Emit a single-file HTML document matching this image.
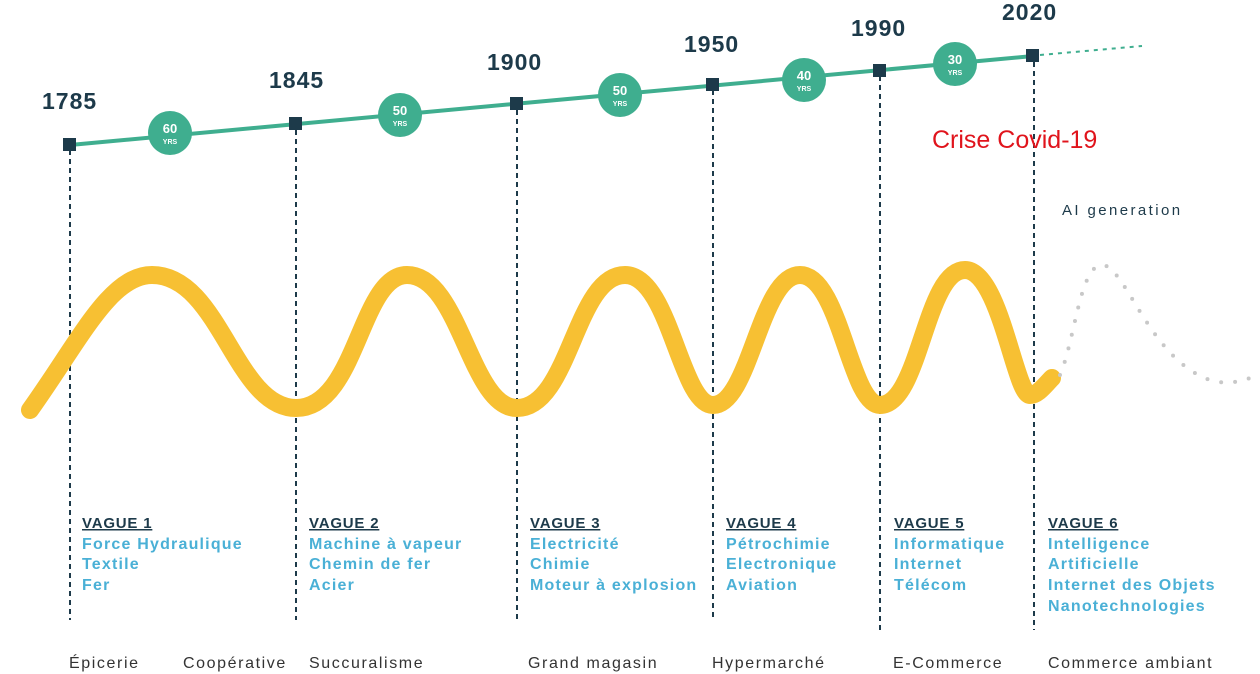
<!DOCTYPE html>
<html><head><meta charset="utf-8"><style>
body{margin:0;background:#fff;width:1260px;height:674px;overflow:hidden}
svg{display:block}
.yr{font:bold 23px "Liberation Sans",sans-serif;fill:#1d3a4a;letter-spacing:1px}
.ci{font:bold 13px "Liberation Sans",sans-serif;fill:#fff}
.cs{font:bold 7px "Liberation Sans",sans-serif;fill:#fff}
.vg{font:bold 15px "Liberation Sans",sans-serif;fill:#1d3a4a;text-decoration:underline;letter-spacing:0.8px}
.it{font:bold 16px "Liberation Sans",sans-serif;fill:#4ab0d6;letter-spacing:1.2px}
.bt{font:16px "Liberation Sans",sans-serif;fill:#333;letter-spacing:1.6px}
</style></head><body>
<svg width="1260" height="674" viewBox="0 0 1260 674">
<g stroke="#1d3a4a" stroke-width="2" stroke-dasharray="5,4">
<line x1="70" y1="150" x2="70" y2="620"/><line x1="296" y1="130" x2="296" y2="620"/>
<line x1="517" y1="110" x2="517" y2="620"/><line x1="713" y1="90" x2="713" y2="620"/>
<line x1="880" y1="76" x2="880" y2="630"/><line x1="1034" y1="62" x2="1034" y2="630"/>
</g>
<line x1="70" y1="145" x2="1033" y2="56" stroke="#3fae8f" stroke-width="4"/>
<line x1="1040" y1="55" x2="1142" y2="46" stroke="#3fae8f" stroke-width="2" stroke-dasharray="4,5"/>
<g fill="#1d3a4a">
<rect x="63" y="138" width="13" height="13"/><rect x="289" y="117" width="13" height="13"/>
<rect x="510" y="97" width="13" height="13"/><rect x="706" y="78" width="13" height="13"/>
<rect x="873" y="64" width="13" height="13"/><rect x="1026" y="49" width="13" height="13"/>
</g>
<g fill="#3fae8f">
<circle cx="170" cy="133" r="22"/><circle cx="400" cy="115" r="22"/><circle cx="620" cy="95" r="22"/>
<circle cx="804" cy="80" r="22"/><circle cx="955" cy="64" r="22"/>
</g>
<g text-anchor="middle">
<text class="ci" x="170" y="133">60</text><text class="cs" x="170" y="144">YRS</text>
<text class="ci" x="400" y="115">50</text><text class="cs" x="400" y="126">YRS</text>
<text class="ci" x="620" y="95">50</text><text class="cs" x="620" y="106">YRS</text>
<text class="ci" x="804" y="80">40</text><text class="cs" x="804" y="91">YRS</text>
<text class="ci" x="955" y="64">30</text><text class="cs" x="955" y="75">YRS</text>
</g>
<text class="yr" x="42" y="109">1785</text><text class="yr" x="269" y="88">1845</text>
<text class="yr" x="487" y="70">1900</text><text class="yr" x="684" y="52">1950</text>
<text class="yr" x="851" y="36">1990</text><text class="yr" x="1002" y="20">2020</text>
<path d="M30,410 C80,340 110,275 152,275 C220,275 235,408 296,408 C357,408 360,275 407,275 C460,275 470,408 517,408 C570,408 575,275 625,275 C670,275 680,405 713,405 C750,405 760,275 800,275 C840,275 850,405 880,405 C920,405 925,270 965,270 C1000,270 1015,395 1030,395 C1038,395 1045,385 1052,378" fill="none" stroke="#f7c033" stroke-width="18" stroke-linecap="round"/>
<path d="M1060,375 C1075,340 1080,265 1102,265 C1125,265 1150,360 1210,380 C1230,386 1245,380 1258,375" fill="none" stroke="#c8c8c8" stroke-width="4" stroke-linecap="round" stroke-dasharray="0,14"/>
<text x="932" y="148" style="font:25px 'Liberation Sans',sans-serif;fill:#e0141c">Crise Covid-19</text>
<text x="1062" y="215" style="font:15px 'Liberation Sans',sans-serif;fill:#1d3a4a;letter-spacing:2.4px">AI generation</text>
<g>
<text class="vg" x="82" y="528">VAGUE 1</text><text class="it" x="82" y="549">Force Hydraulique</text><text class="it" x="82" y="569">Textile</text><text class="it" x="82" y="590">Fer</text>
<text class="vg" x="309" y="528">VAGUE 2</text><text class="it" x="309" y="549">Machine à vapeur</text><text class="it" x="309" y="569">Chemin de fer</text><text class="it" x="309" y="590">Acier</text>
<text class="vg" x="530" y="528">VAGUE 3</text><text class="it" x="530" y="549">Electricité</text><text class="it" x="530" y="569">Chimie</text><text class="it" x="530" y="590">Moteur à explosion</text>
<text class="vg" x="726" y="528">VAGUE 4</text><text class="it" x="726" y="549">Pétrochimie</text><text class="it" x="726" y="569">Electronique</text><text class="it" x="726" y="590">Aviation</text>
<text class="vg" x="894" y="528">VAGUE 5</text><text class="it" x="894" y="549">Informatique</text><text class="it" x="894" y="569">Internet</text><text class="it" x="894" y="590">Télécom</text>
<text class="vg" x="1048" y="528">VAGUE 6</text><text class="it" x="1048" y="549">Intelligence</text><text class="it" x="1048" y="569">Artificielle</text><text class="it" x="1048" y="590">Internet des Objets</text><text class="it" x="1048" y="611">Nanotechnologies</text>
</g>
<text class="bt" x="69" y="668">Épicerie</text><text class="bt" x="183" y="668">Coopérative</text>
<text class="bt" x="309" y="668">Succuralisme</text><text class="bt" x="528" y="668">Grand magasin</text>
<text class="bt" x="712" y="668">Hypermarché</text><text class="bt" x="893" y="668">E-Commerce</text>
<text class="bt" x="1048" y="668">Commerce ambiant</text>
</svg>
</body></html>
